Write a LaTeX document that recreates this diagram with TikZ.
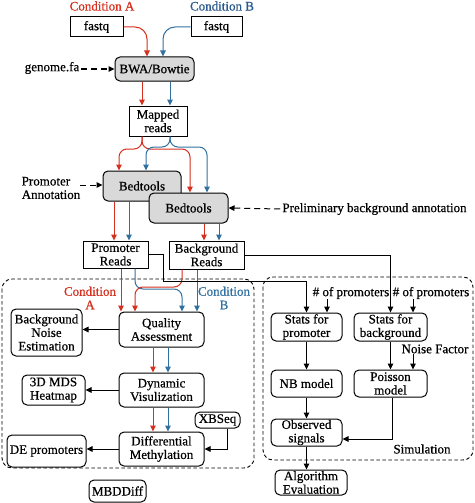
\documentclass[tikz,border=0pt]{standalone}
\usepackage{fontspec}
\setmainfont{Liberation Serif}[FakeBold=0.6]
\usetikzlibrary{arrows.meta}
\definecolor{cred}{RGB}{214,48,31}
\definecolor{cblue}{RGB}{50,112,160}
\definecolor{cbluet}{RGB}{40,88,140}
\begin{document}
\begin{tikzpicture}[x=1pt,y=-1pt, font=\fontsize{13}{13.5}\selectfont,
 box/.style={draw, line width=1pt, align=center, inner sep=0pt},
 rbox/.style={box, rounded corners=5pt},
 gbox/.style={rbox, fill=black!15},
 lbl/.style={inner sep=0pt, align=center},
 arr/.style={line width=1pt, -{Triangle[length=6pt,width=5.5pt]}},
 ra/.style={arr, cred},
 ba/.style={arr, cblue},
 ka/.style={arr, black},
 da/.style={arr, dash pattern=on 6pt off 4pt},
 dbox/.style={dash pattern=on 3.5pt off 2.5pt, line width=0.9pt, rounded corners=10pt}]
\useasboundingbox (0,0) rectangle (474,503);

% dashed groups
\draw[dbox] (2,279) rectangle (254,468);
\draw[dbox] (263,277) rectangle (473,460);

% top labels
\node[lbl, text=cred, anchor=base] (ca) at (102,10.5) {Condition A};
\node[lbl, text=cbluet, anchor=base] (cb) at (222,10.5) {Condition B};
\node[box, minimum width=53pt, minimum height=20pt] (fqa) at (96.5,27) {fastq};
\node[box, minimum width=51pt, minimum height=20pt] (fqb) at (216.5,27) {fastq};
\node[gbox, minimum width=79pt, minimum height=24pt] (bwa) at (154.5,69) {BWA/Bowtie};
\node[lbl] (gen) at (52,68) {genome.fa};
\node[box, minimum width=58pt, minimum height=30pt] (mr) at (158,121) {Mapped\\reads};
\node[gbox, minimum width=78pt, minimum height=30pt] (bt1) at (142,186) {Bedtools};
\node[gbox, minimum width=79pt, minimum height=30pt] (bt2) at (188.5,208) {Bedtools};
\node[lbl, align=left] (pa) at (51,188) {Promoter\\Annotation};
\node[lbl] (pba) at (374.5,209) {Preliminary background annotation};
\node[box, minimum width=65pt, minimum height=27pt] (pr) at (115.5,254.5) {Promoter\\Reads};
\node[box, minimum width=75pt, minimum height=28pt] (br) at (206.5,255) {Background\\Reads};

% MBDDiff part
\node[lbl, text=cred] (ca2) at (90,298) {Condition\\A};
\node[lbl, text=cblue] (cb2) at (224,298) {Condition\\B};
\node[rbox, minimum width=85pt, minimum height=35pt] (qa) at (161.5,329.5) {Quality\\Assessment};
\node[rbox, minimum width=71pt, minimum height=47pt] (bne) at (46.5,332.5) {Background\\Noise\\Estimation};
\node[rbox, minimum width=85pt, minimum height=34pt] (dv) at (161.5,390) {Dynamic\\Visulization};
\node[rbox, minimum width=63pt, minimum height=30pt] (mds) at (53.5,390) {3D MDS\\Heatmap};
\node[rbox, minimum width=45pt, minimum height=16pt] (xb) at (217.5,420) {XBSeq};
\node[rbox, minimum width=85pt, minimum height=34pt] (dm) at (161.5,449) {Differential\\Methylation};
\node[rbox, minimum width=79pt, minimum height=32pt] (de) at (46.5,451) {DE promoters};
\node[rbox, minimum width=57pt, minimum height=22pt] (mbd) at (117.5,491) {MBDDiff};

% Simulation part
\node[lbl] (np1) at (351,293) {\# of promoters};
\node[lbl] (np2) at (431,293) {\# of promoters};
\node[rbox, minimum width=71pt, minimum height=28pt] (sp) at (306.5,327) {Stats for\\promoter};
\node[rbox, minimum width=73pt, minimum height=28pt] (sb) at (390.5,327) {Stats for\\background};
\node[lbl] (nf) at (435,349) {Noise Factor};
\node[rbox, minimum width=71pt, minimum height=27pt] (nb) at (306.5,383.5) {NB model};
\node[rbox, minimum width=73pt, minimum height=27pt] (pm) at (390.5,383.5) {Poisson\\model};
\node[rbox, minimum width=71pt, minimum height=27pt] (os) at (306.5,432.5) {Observed\\signals};
\node[lbl] (sim) at (422,449) {Simulation};
\node[rbox, minimum width=72pt, minimum height=25pt] (ae) at (311,482.5) {Algorithm\\Evaluation};

% lanes
\coordinate (xa0) at (147,0); \coordinate (xb0) at (163,0);
\coordinate (xa1) at (142,0); \coordinate (xb1) at (170,0);
\coordinate (yr1) at (0,149); \coordinate (yb1) at (0,147);
\coordinate (x119) at (119,0); \coordinate (x146) at (146,0);
\coordinate (x190) at (190,0); \coordinate (x207) at (207,0);
\coordinate (x114) at (114,0); \coordinate (x129) at (129,0);
\coordinate (x204) at (204,0); \coordinate (x219) at (219,0);
\coordinate (x121) at (121,0); \coordinate (x135) at (135,0);
\coordinate (x182) at (182,0); \coordinate (x197) at (197,0);
\coordinate (yr2) at (0,287); \coordinate (yb2) at (0,289);
\coordinate (x153) at (153,0); \coordinate (x168) at (168,0);
\coordinate (x227) at (227,0);
\coordinate (x163) at (163,0); \coordinate (y281) at (0,281);
\coordinate (x327) at (327,0); \coordinate (x413) at (413,0);
\coordinate (x392) at (392,0); \coordinate (y439) at (0,439);
\coordinate (y185) at (0,185);

% top connectors
\draw[ra, rounded corners=12pt] (fqa.east) -| (bwa.north -| xa0);
\draw[ba, rounded corners=12pt] (fqb.west) -| (bwa.north -| xb0);
\draw[da] (gen.east |- bwa.west) ++(2,0) -- (bwa.west);
\draw[ra] (bwa.south -| xa1) -- (mr.north -| xa1);
\draw[ba] (bwa.south -| xb1) -- (mr.north -| xb1);
\draw[ra, rounded corners=8pt] (mr.south -| xa1) -- (xa1 |- yr1) -| (bt2.north -| x190);
\draw[ba, rounded corners=8pt] (mr.south -| xb1) -- (xb1 |- yb1) -| (bt1.north -| x146);
\draw[ba, rounded corners=8pt] (mr.south -| xb1) -- (xb1 |- yb1) -| (bt2.north -| x207);
\draw[ra, rounded corners=8pt] (mr.south -| xa1) -- (xa1 |- yr1) -| (bt1.north -| x119);
\draw[da] (pa.east |- y185) -- (bt1.west |- y185);
\draw[da] (pba.west) ++(-2,0) -- (bt2.east);
\draw[ra] (bt1.south -| x114) -- (pr.north -| x114);
\draw[ba] (bt1.south -| x129) -- (pr.north -| x129);
\draw[ra] (bt2.south -| x204) -- (br.north -| x204);
\draw[ba] (bt2.south -| x219) -- (br.north -| x219);

% reads to QA
\draw[ra] (pr.south -| x121) -- (qa.north -| x121);
\draw[ba, rounded corners=8pt] (pr.south -| x135) -- (x135 |- yb2) -| (qa.north -| x182);
\draw[ra, rounded corners=8pt] (br.south -| x182) -- (x182 |- yr2) -| (qa.north -| x135);
\draw[ba] (br.south -| x197) -- (qa.north -| x197);

% MBDDiff internal
\draw[ka] (qa.west) -- (qa.west -| bne.east);
\draw[ra] (qa.south -| x153) -- (dv.north -| x153);
\draw[ba] (qa.south -| x168) -- (dv.north -| x168);
\draw[ka] (dv.west) -- (dv.west -| mds.east);
\draw[ra] (dv.south -| x153) -- (dm.north -| x153);
\draw[ba] (dv.south -| x168) -- (dm.north -| x168);
\draw[ka] (dm.west) -- (dm.west -| de.east);
\draw[ka] (xb.south -| x227) |- (dm.east);

% to simulation
\draw[ka] (pr.east) -- (pr.east -| x163) -- (x163 |- y281) -| (sp.north);
\draw[ka] (br.east) -| (sb.north);
\draw[ka] (np1.south -| x327) -- (sp.north -| x327);
\draw[ka] (np2.south -| x413) -- (sb.north -| x413);
\draw[ka] (nf.south -| x413) -- (pm.north -| x413);
\draw[ka] (sb.south) -- (pm.north);
\draw[ka] (sp.south) -- (nb.north);
\draw[ka] (nb.south) -- (os.north);
\draw[ka] (pm.south -| x392) -- (x392 |- y439) -- (os.east |- y439);
\draw[ka] (os.south) -- (os.south |- ae.north);
\end{tikzpicture}
\end{document}
